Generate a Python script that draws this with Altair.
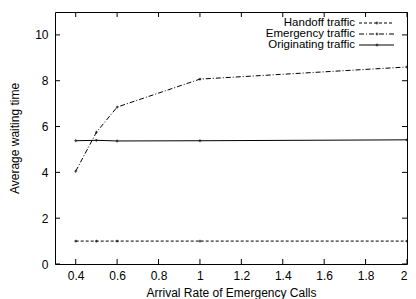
import altair as alt
import pandas as pd

x_vals = [0.4, 0.5, 0.6, 1.0, 2.0]
handoff = [1.0, 1.0, 1.0, 1.0, 1.0]
emergency = [4.05, 5.75, 6.85, 8.07, 8.6]
originating = [5.38, 5.4, 5.37, 5.38, 5.42]
series_names = ["Handoff traffic", "Emergency traffic", "Originating traffic"]
x_ticks = [0.4, 0.6, 0.8, 1.0, 1.2, 1.4, 1.6, 1.8, 2.0]
y_ticks = [0, 2, 4, 6, 8, 10]

W, H = 352, 252
FONT = "Liberation Sans"

rows = []
for name, vals in zip(series_names, [handoff, emergency, originating]):
    for xv, yv in zip(x_vals, vals):
        rows.append({"x": xv, "y": yv, "series": name})
df = pd.DataFrame(rows)

xscale = alt.Scale(domain=[0.3, 2.0], nice=False, zero=False)
yscale = alt.Scale(domain=[0, 11], nice=False)

dashes = {"Handoff traffic": [3, 2], "Emergency traffic": [5, 2, 1, 2], "Originating traffic": []}

layers = []
for i, name in enumerate(series_names):
    sub = df[df.series == name]
    base = alt.Chart(sub)
    kw = {"strokeDash": dashes[name]} if dashes[name] else {}
    line = base.mark_line(color="black", strokeWidth=1, **kw).encode(
        x=alt.X("x:Q", scale=xscale,
                axis=alt.Axis(values=x_ticks, ticks=False, domain=False, grid=False,
                              labelFontSize=12, labelFont=FONT, labelColor="black",
                              labelPadding=6, title="Arrival Rate of Emergency Calls",
                              titleFont=FONT, titleFontSize=12, titleFontWeight="normal",
                              titleColor="black", titlePadding=6,
                              labelExpr="format(datum.value, '.1~f')")),
        y=alt.Y("y:Q", scale=yscale,
                axis=alt.Axis(values=y_ticks, ticks=False, domain=False, grid=False,
                              labelFontSize=12, labelFont=FONT, labelColor="black",
                              labelPadding=7, title="Average waiting time",
                              titleFont=FONT, titleFontSize=12, titleFontWeight="normal",
                              titleColor="black", titlePadding=13)),
    )
    pts = base.mark_point(color="black", shape="cross", size=8, filled=True).encode(
        x=alt.X("x:Q", scale=xscale), y=alt.Y("y:Q", scale=yscale))
    layers += [line, pts]

# inward ticks
xt = pd.DataFrame({"v": x_ticks})
yt = pd.DataFrame({"v": y_ticks})
tick_layers = [
    alt.Chart(xt).mark_rule(color="black", strokeWidth=1).encode(
        x=alt.X("v:Q", scale=xscale), y=alt.value(H), y2=alt.value(H - 5)),
    alt.Chart(xt).mark_rule(color="black", strokeWidth=1).encode(
        x=alt.X("v:Q", scale=xscale), y=alt.value(0), y2=alt.value(5)),
    alt.Chart(yt).mark_rule(color="black", strokeWidth=1).encode(
        y=alt.Y("v:Q", scale=yscale), x=alt.value(0), x2=alt.value(5)),
    alt.Chart(yt).mark_rule(color="black", strokeWidth=1).encode(
        y=alt.Y("v:Q", scale=yscale), x=alt.value(W), x2=alt.value(W - 5)),
]

# gnuplot-style legend (label left, sample right)
leg_layers = []
for i, name in enumerate(series_names):
    ly = 11 + 11 * i
    ld = pd.DataFrame({"label": [name]})
    kw = {"strokeDash": dashes[name]} if dashes[name] else {}
    leg_layers.append(alt.Chart(ld).mark_text(align="right", baseline="middle", font=FONT,
                                              fontSize=11.5, color="black").encode(
        text="label:N", x=alt.value(W - 52), y=alt.value(ly)))
    leg_layers.append(alt.Chart(ld).mark_rule(color="black", strokeWidth=1, **kw).encode(
        x=alt.value(W - 48), x2=alt.value(W - 13), y=alt.value(ly)))
    leg_layers.append(alt.Chart(ld).mark_point(color="black", shape="cross", size=8,
                                               filled=True).encode(
        x=alt.value(W - 30), y=alt.value(ly)))

chart = alt.layer(*layers, *tick_layers, *leg_layers).properties(
    width=W, height=H,
    autosize=alt.AutoSizeParams(type="none"),
    padding={"left": 47, "top": 4, "right": 1, "bottom": 35},
).configure_view(stroke="black", strokeWidth=1)

chart.save("out.html", embed_options={"renderer": "svg", "actions": False})
